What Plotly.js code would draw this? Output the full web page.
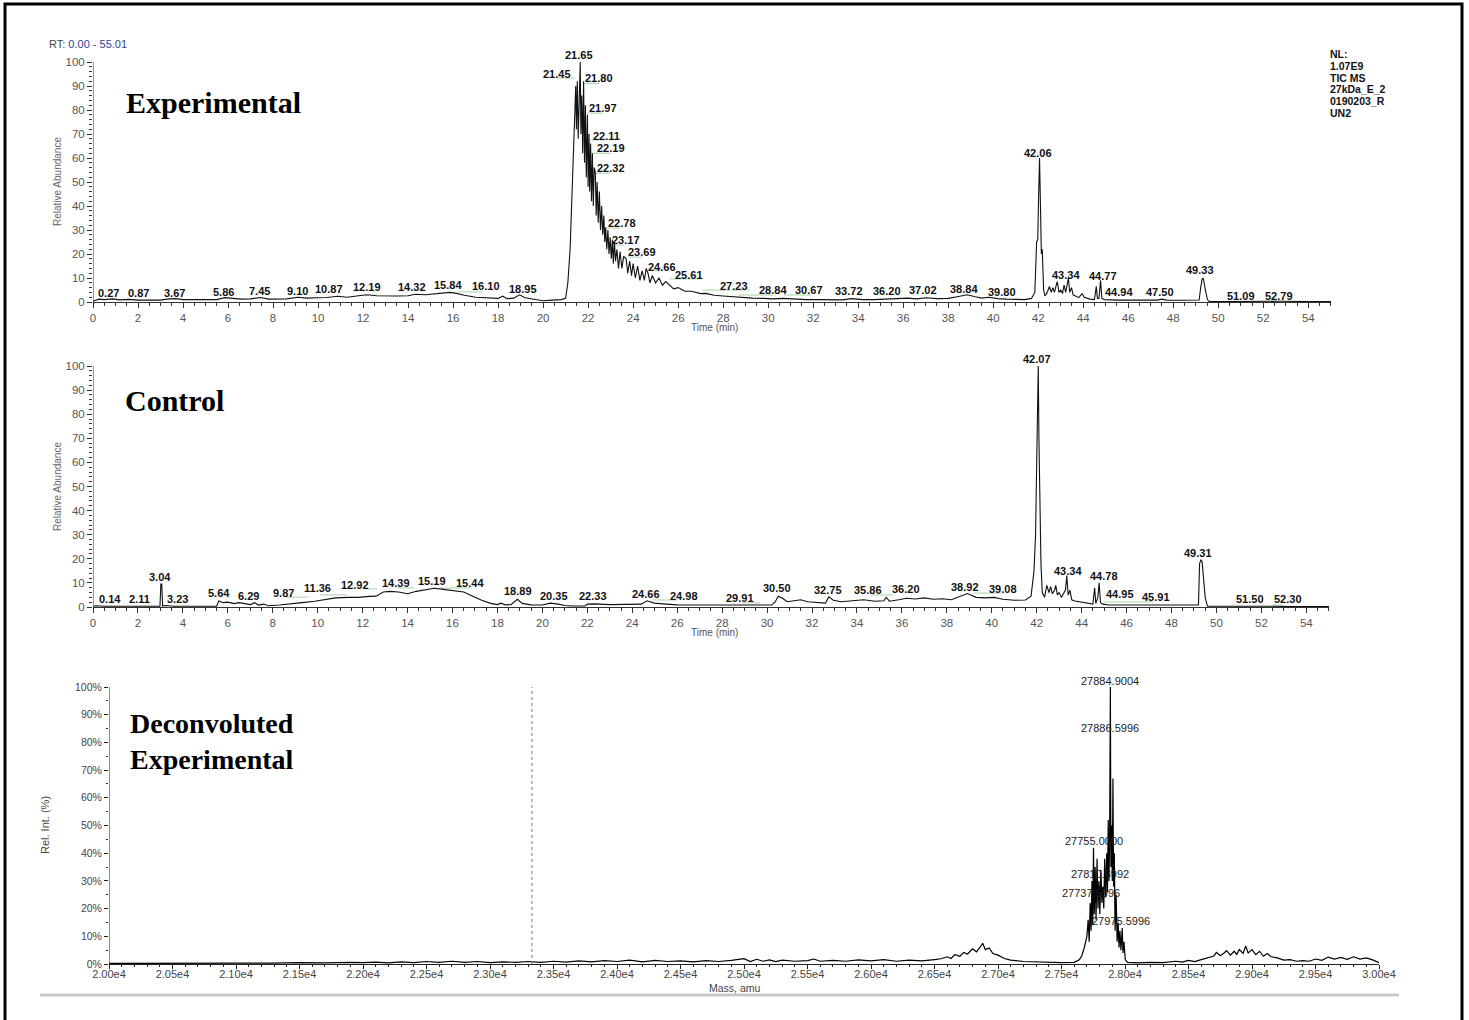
<!DOCTYPE html>
<html><head><meta charset="utf-8">
<script src="https://cdn.plot.ly/plotly-3.0.1.min.js"></script>
<style>html,body{margin:0;padding:0;background:#fff}#chart{width:1469px;height:1020px}</style>
</head><body><div id="chart"></div>
<script>
// ---------- Experimental TIC ----------
const expTime = [
 0,0.27,0.5,0.87,1.2,1.6,2.0,2.5,3.0,3.3,
 3.67,4.0,4.5,5.0,5.5,5.86,6.2,6.6,7.0,7.45,
 7.8,8.2,8.6,9.1,9.5,10.0,10.4,10.87,11.3,11.8,
 12.19,12.6,13.0,13.5,14.0,14.32,14.8,15.2,15.6,15.84,
 16.1,16.5,17.0,17.5,18.0,18.2,18.4,18.7,18.95,19.2,
 19.6,20.0,20.4,20.8,21.0,21.1,21.2,21.28,21.35,21.4,
 21.45,21.48,21.52,21.56,21.6,21.65,21.68,21.72,21.76,21.8,
 21.84,21.88,21.92,21.97,22.0,22.04,22.07,22.11,22.15,22.19,
 22.23,22.27,22.32,22.36,22.4,22.45,22.5,22.55,22.6,22.65,
 22.7,22.74,22.78,22.83,22.88,22.93,22.98,23.03,23.08,23.12,
 23.17,23.22,23.28,23.35,23.42,23.5,23.58,23.69,23.76,23.85,
 23.93,24.0,24.1,24.2,24.3,24.4,24.5,24.58,24.66,24.75,
 24.85,25.0,25.15,25.3,25.45,25.61,25.8,26.0,26.3,26.6,
 27.0,27.23,27.6,28.0,28.4,28.84,29.3,29.8,30.2,30.67,
 31.2,31.7,32.2,32.8,33.3,33.72,34.2,34.7,35.2,35.7,
 36.2,36.6,37.02,37.5,38.0,38.4,38.84,39.2,39.5,39.8,
 40.2,40.6,41.0,41.4,41.7,41.85,41.93,41.98,42.02,42.06,
 42.1,42.14,42.18,42.24,42.3,42.4,42.5,42.58,42.65,42.72,
 42.8,42.85,42.92,43.0,43.08,43.15,43.22,43.3,43.34,43.4,
 43.48,43.55,43.65,43.8,43.95,44.05,44.3,44.5,44.58,44.63,
 44.7,44.77,44.83,44.94,45.5,46.5,47.3,47.5,47.7,48.5,
 49.15,49.22,49.28,49.33,49.38,49.45,49.52,49.6,50.5,51.09,
 52.0,52.79,54.0,55.01
];
const expAbund = [
 0.3,1.2,1.0,1.3,0.9,1.1,0.8,0.9,0.8,1.2,
 1.4,1.0,1.1,0.9,1.0,1.8,1.4,1.2,1.3,1.9,
 1.2,1.1,1.3,2.0,1.6,1.8,1.9,2.4,2.0,2.6,
 3.0,2.6,2.5,2.5,2.6,3.2,3.0,3.5,3.8,4.0,
 3.7,2.8,2.0,1.6,1.5,2.4,1.4,1.6,3.0,1.8,
 1.0,0.5,0.8,1.0,1.5,8,22,45,62,85,
 90,72,92,68,88,100,70,86,62,92,
 58,82,52,78,48,70,46,66,42,62,
 40,56,54,36,50,33,46,30,40,28,
 36,25,31,22,30,20,27,18,26,16,
 25,17,22,14,21,14,19,18,12,17,
 11,16,10,15,9,13,9,14,12,8,
 11,8,10,7,8.5,7,5.5,6,4.5,4.5,
 3.5,3.6,2.8,2.5,2.2,2.0,1.6,1.5,1.3,1.5,
 1.1,1.0,1.0,1.0,0.9,1.4,1.0,1.0,1.1,1.2,
 1.6,1.3,1.8,1.4,1.5,2.2,3.0,2.2,1.6,2.0,
 1.4,1.2,1.1,1.0,1.5,4,25,26,45,60,
 40,20,22,5,2.5,4,6.5,4,6,4,
 7,8.5,4,5,3.5,7,4,8,10,4,
 6,3,2.5,1.8,3.5,2,1.2,1.0,6.5,1.5,
 1.5,9,1.5,1.0,0.8,0.7,0.8,1.2,0.8,0.7,
 0.8,6,9.5,10,8,4,1,0.2,0.2,0.3,
 0.2,0.3,0.2,0.2
];
const expPeakRT = [0.27,0.87,3.67,5.86,7.45,9.10,10.87,12.19,14.32,15.84,16.10,18.95,21.45,21.65,21.80,21.97,22.11,22.19,22.32,22.78,23.17,23.69,24.66,25.61,27.23,28.84,30.67,33.72,36.20,37.02,38.84,39.80,42.06,43.34,44.77,44.94,47.50,49.33,51.09,52.79];
const expLabelX = [0.67,2.0,3.6,5.82,7.38,9.07,10.49,12.18,14.18,15.78,17.47,19.1,20.6,21.6,22.5,22.67,22.8,23.0,23.0,23.5,23.7,24.4,25.3,26.5,28.5,30.2,31.8,33.6,35.3,36.9,38.7,40.4,42.0,43.24,44.9,45.6,47.4,49.2,51.0,52.7];
const expLabelY = [3.75,3.75,3.75,4.2,4.6,4.6,5.4,6.2,6.2,7.1,6.7,5.4,95,103,93.3,80.8,69,64,56,33,26,21,14.6,11.2,6.7,5,5,4.6,4.6,5,5.4,4.2,62,11.2,11,4.2,4.2,13.3,2.5,2.5];
// label leader segments (start time, end time, level)
const expLeadX0 = [20.6,21.8,21.95,22.1,22.2,22.3,22.7,23.0,23.8,24.7,25.6,27.1,28.7,30.7,16.2];
const expLeadX1 = [21.4,22.5,22.67,22.8,23.0,23.0,23.4,23.6,24.4,25.3,27.0,29.2,30.2,31.9,17.3];
const expLeadY  = [93.3,91,78.7,67.5,62,53.7,30.8,23.7,18.7,13.3,9.6,5,2.9,2.9,4.2];

// ---------- Control TIC ----------
const ctlTime = [
 0,0.14,0.5,1.0,1.5,2.11,2.6,2.98,3.02,3.06,
 3.1,3.23,3.6,4.5,5.5,5.6,5.8,6.0,6.29,6.5,
 6.8,7.0,7.2,7.35,7.6,7.8,8.3,8.8,9.3,9.87,
 10.3,10.8,11.36,11.8,12.3,12.6,12.92,13.2,13.6,14.0,
 14.39,14.8,15.19,15.6,16.0,16.5,16.9,17.3,17.7,18.0,
 18.15,18.35,18.6,18.89,19.1,19.5,20.0,20.35,20.7,21.0,
 21.3,21.9,22.0,22.33,23.0,24.0,24.4,24.66,24.98,25.5,
 26.0,27.0,28.0,29.0,29.91,30.2,30.35,30.5,30.7,30.9,
 31.2,31.5,31.8,32.3,32.6,32.75,32.95,33.3,33.8,34.3,
 34.8,35.2,35.3,35.45,35.86,36.2,36.6,37.0,37.4,37.8,
 38.2,38.6,38.92,39.3,39.7,40.1,40.5,41.0,41.5,41.75,
 41.88,41.95,42.0,42.04,42.07,42.1,42.14,42.19,42.25,42.35,
 42.45,42.55,42.62,42.7,42.8,42.85,42.92,43.0,43.1,43.2,
 43.28,43.34,43.4,43.48,43.56,43.7,44.0,44.2,44.5,44.58,
 44.63,44.72,44.78,44.84,44.95,45.2,46.0,47.0,48.0,49.2,
 49.25,49.31,49.36,49.42,49.5,49.6,50.5,51.5,52.3,53.5,
 55.01
];
const ctlAbund = [
 0.3,0.5,0.3,0.3,0.3,0.4,0.3,0.3,9.5,9.5,
 0.4,0.6,0.3,0.3,0.3,2.5,1.8,2.0,1.4,1.8,
 1.2,1.0,1.8,0.8,1.2,0.5,0.8,1.2,1.8,2.4,
 3.0,3.8,4.0,4.0,4.4,4.5,6.2,6.5,6.2,5.5,
 6.5,7.2,7.8,7.3,6.8,6.2,4.5,2.8,1.5,1.0,
 1.6,0.9,1.0,3.2,1.5,0.9,0.8,1.6,1.2,0.6,
 0.4,0.4,1.2,1.3,1.0,1.0,1.2,2.6,1.6,1.2,
 0.9,0.8,0.8,0.8,0.9,0.8,2.0,4.5,3.5,2.2,
 2.6,3.0,2.2,1.8,1.6,4.2,2.8,2.2,2.6,3.0,
 2.4,2.6,4.0,2.4,3.0,3.6,3.3,3.8,3.2,3.4,
 3.0,4.5,5.6,4.0,3.8,4.0,3.2,2.8,2.9,4.5,
 15,30,62,85,100,70,42,18,6,4,
 9,6,8.5,5.5,7,9,5,6,4,5.5,
 7,13,5,7,3,2.5,2,1.5,1.2,8,
 1.5,4,10,1.8,1.2,0.8,0.8,0.8,0.8,0.8,
 18,19.5,19,12,4,0.3,0.2,0.3,0.3,0.2,
 0.2
];
const ctlPeakRT = [0.14,2.11,3.04,3.23,5.64,6.29,9.87,11.36,12.92,14.39,15.19,15.44,18.89,20.35,22.33,24.66,24.98,29.91,30.50,32.75,35.86,36.20,38.92,39.08,42.07,43.34,44.78,44.95,45.91,49.31,51.50,52.30];
const ctlLabelX = [0.76,2.05,2.98,3.78,5.6,6.9,8.5,10.0,11.66,13.5,15.1,16.8,18.9,20.5,22.26,24.6,26.3,28.8,30.45,32.7,34.5,36.2,38.8,40.5,42.0,43.4,45.0,45.7,47.3,49.2,51.5,53.2];
const ctlLabelY = [3.3,3.3,12.4,3.3,5.8,4.6,5.8,7.9,9.1,10,10.8,10,6.6,4.6,4.6,5.4,4.6,3.7,7.9,7,7,7.5,8.3,7.5,103,15,12.9,5.4,4.1,22.4,3.3,3.3];
const ctlLeadX0 = [8.6,10.1,12.1,13.5,15.45,24.9,28.9,34.6,39.2,45.0,52.5];
const ctlLeadX1 = [9.6,11.3,12.65,14.3,16.8,26.0,29.7,35.6,40.4,47.2,53.0];
const ctlLeadY  = [4.1,5,7.5,7.9,7.9,2.9,1.7,5,5.8,2.1,0.8];

// ---------- Deconvoluted spectrum ----------
const decMass = [
 20000,20400,20800,21100,21300,21500,21700,21900,
 22000,22100,22200,22300,22400,22500,22600,22700,22800,22900,
 23000,23100,23200,23300,23400,23500,23600,23700,23800,23900,
 24000,24100,24200,24300,24400,24500,24600,24700,24800,24900,
 25000,25050,25100,25150,25200,25250,25300,25400,25500,25550,
 25600,25700,25800,25900,26000,26100,26200,26300,26400,26500,
 26550,26600,26630,26660,26700,26730,26760,26800,26830,26860,
 26880,26900,26930,26960,27000,27050,27100,27200,27300,27400,27500,27600,
 27640,27660,27680,27700,27710,27718,27726,27733,27740,27746,
 27752,27758,27765,27772,27780,27787,27795,27802,27810,27818,
 27826,27833,27840,27848,27856,27862,27868,27874,27879,27884.9,
 27889,27894,27900,27905,27910,27916,27922,27930,27938,27946,
 27953,27960,27968,27978,27984,27992,28002,
 28020,28100,28200,28300,28400,28450,28500,28550,28600,28650,
 28700,28720,28750,28780,28800,28830,28860,28880,28900,28930,
 28950,28970,29000,29030,29060,29090,29120,29150,29200,29250,
 29300,29350,29400,29450,29500,29550,29600,29650,29700,29750,
 29800,29850,29900,29950,30000
];
const decInt = [
 0.2,0.2,0.3,0.4,0.3,0.5,0.4,0.6,
 0.5,0.7,0.4,0.8,0.5,0.9,0.6,1.0,0.6,0.9,
 0.5,0.8,0.6,0.9,0.6,1.0,0.7,1.1,0.8,1.2,
 0.9,1.4,0.8,1.3,0.9,1.1,0.8,1.2,0.9,1.3,
 1.9,0.9,1.7,1.0,1.5,0.9,1.4,1.0,1.2,1.8,
 1.0,1.3,1.0,1.5,1.1,1.6,1.0,1.4,1.1,1.6,
 1.9,2.6,2.0,3.4,2.8,4.2,3.6,5.5,4.4,6.2,
 7.5,5.2,5.8,3.8,3.2,2.0,1.4,0.9,0.7,0.6,0.5,0.6,
 1.5,3,6,10,16,8,22,12,30,14,
 42,18,35,16,38,20,30,18,34,22,
 28,20,38,24,40,26,52,30,45,100,
 35,50,30,67,28,40,12,25,8,15,
 6,12,5,13,4,8,1.5,
 0.6,0.4,0.6,0.5,1.0,0.7,1.3,0.9,1.6,2.2,
 2.9,4.2,3.0,4.0,4.8,3.2,4.6,3.5,5.2,3.8,
 6.5,4.0,5.2,3.4,4.6,2.8,3.8,2.6,2.2,1.4,
 1.6,1.0,1.2,1.0,1.8,1.3,2.5,1.8,2.4,1.7,
 2.6,1.8,2.2,1.5,0.5
];
const decPeakText = ['27884.9004','27886.5996','27755.0000','27810.6992','27737.5996','27975.5996'];
const decLabelX = [27882,27882,27756,27803,27732,27969];
const decLabelY = [102.2,85.2,44.4,32.5,25.6,15.5];
const decMarkerMass = [19970];
const decMarkerInt = [10];
const decDottedMass = 23330;

// ---------- text ----------
const nlLines = ['NL:','1.07E9','TIC MS','27kDa_E_2','0190203_R','UN2'];
const panelTitles = ['Experimental','Control','Deconvoluted<br>Experimental'];

// ---------- layout helpers ----------
const W = 1469, H = 1020;
const px = v => v / W, py = v => 1 - v / H;
const SANS = 'Liberation Sans, Arial, sans-serif';
const SERIF = 'Liberation Serif, Times New Roman, serif';

function seq(a, b, s) { const r = []; for (let v = a; v <= b + 1e-9; v += s) r.push(+v.toFixed(4)); return r; }
function segs(x0, x1, y) {
  const xs = [], ys = [];
  x0.forEach((v, i) => { xs.push(v, x1[i], null); ys.push(y[i], y[i], null); });
  return {xs, ys};
}
const eL = segs(expLeadX0, expLeadX1, expLeadY);
const cL = segs(ctlLeadX0, ctlLeadX1, ctlLeadY);

const traces = [
  {x: eL.xs, y: eL.ys, xaxis: 'x', yaxis: 'y', mode: 'lines', line: {color: '#a6d3a6', width: 1}, hoverinfo: 'skip', connectgaps: false},
  {x: cL.xs, y: cL.ys, xaxis: 'x2', yaxis: 'y2', mode: 'lines', line: {color: '#a6d3a6', width: 1}, hoverinfo: 'skip', connectgaps: false},
  {x: expTime, y: expAbund, xaxis: 'x', yaxis: 'y', mode: 'lines', line: {color: '#111', width: 1.1}, hoverinfo: 'skip'},
  {x: ctlTime, y: ctlAbund, xaxis: 'x2', yaxis: 'y2', mode: 'lines', line: {color: '#111', width: 1.1}, hoverinfo: 'skip'},
  {x: decMass, y: decInt, xaxis: 'x3', yaxis: 'y3', mode: 'lines', line: {color: '#000', width: 1.2}, hoverinfo: 'skip'},
  {x: decMarkerMass, y: decMarkerInt, xaxis: 'x3', yaxis: 'y3', mode: 'markers', cliponaxis: false,
   marker: {symbol: 'triangle-right', size: 8, color: '#1b1b80'}, hoverinfo: 'skip'}
];

const chromX = (dom, anchor) => ({
  domain: dom, anchor: anchor, range: [0, 55.01], showgrid: false, zeroline: false,
  showline: true, linecolor: '#333', linewidth: 1,
  tickmode: 'array', tickvals: seq(0, 54, 2), ticks: 'outside', ticklen: 5, tickcolor: '#333',
  tickfont: {family: SANS, size: 11.5, color: '#555'},
  minor: {tickmode: 'array', tickvals: seq(0, 55, 0.5), ticks: 'outside', ticklen: 3, tickcolor: '#333'}
});
const chromY = (dom, anchor) => ({
  domain: dom, anchor: anchor, range: [0, 108], showgrid: false, zeroline: false, showline: false,
  tickmode: 'array', tickvals: seq(0, 100, 10), ticks: 'outside', ticklen: 5, tickcolor: '#333',
  tickfont: {family: SANS, size: 11.5, color: '#555'},
  minor: {tickmode: 'array', tickvals: seq(0, 100, 2), ticks: 'outside', ticklen: 3, tickcolor: '#333'}
});

const massTicks = seq(20000, 30000, 500);
const pctTicks = seq(0, 100, 10);

const layout = {
  width: W, height: H, margin: {l: 0, r: 0, t: 0, b: 0},
  paper_bgcolor: '#fff', plot_bgcolor: '#fff', showlegend: false,
  xaxis: chromX([px(93), px(1331)], 'y'),
  yaxis: chromY([py(302), py(302 - 108 * 2.4)], 'x'),
  xaxis2: chromX([px(93), px(1329)], 'y2'),
  yaxis2: chromY([py(607), py(607 - 108 * 2.41)], 'x2'),
  xaxis3: {
    domain: [px(109), px(1379)], anchor: 'y3', range: [20000, 30000], showgrid: false, zeroline: false,
    showline: true, linecolor: '#222', linewidth: 1,
    tickmode: 'array', tickvals: massTicks, ticktext: massTicks.map(v => (v / 1e4).toFixed(2) + 'e4'),
    ticks: 'outside', ticklen: 4, tickcolor: '#222', ticklabelstandoff: -4,
    tickfont: {family: SANS, size: 11, color: '#444'},
    minor: {tickmode: 'array', tickvals: seq(20000, 30000, 100), ticks: 'outside', ticklen: 2, tickcolor: '#222'}
  },
  yaxis3: {
    domain: [py(964), py(964 - 106 * 2.77)], anchor: 'x3', range: [0, 106], showgrid: false, zeroline: false, showline: false,
    tickmode: 'array', tickvals: pctTicks, ticktext: pctTicks.map(v => v + '%'),
    ticks: 'outside', ticklen: 4, tickcolor: '#222',
    tickfont: {family: SANS, size: 10.5, color: '#444'},
    minor: {tickmode: 'array', tickvals: seq(0, 100, 5), ticks: 'outside', ticklen: 2, tickcolor: '#222'}
  },
  shapes: [
    {type: 'line', xref: 'x', yref: 'y', x0: 0, x1: 0, y0: 0, y1: 100, line: {color: '#333', width: 1}},
    {type: 'line', xref: 'x2', yref: 'y2', x0: 0, x1: 0, y0: 0, y1: 100, line: {color: '#333', width: 1}},
    {type: 'line', xref: 'x3', yref: 'y3', x0: 20000, x1: 20000, y0: 0, y1: 100, line: {color: '#222', width: 1}},
    {type: 'line', xref: 'x3', yref: 'y3', x0: decDottedMass, x1: decDottedMass, y0: 0, y1: 100, line: {color: '#777', width: 1, dash: 'dot'}},
    {type: 'line', xref: 'paper', yref: 'paper', x0: px(40), x1: px(1399), y0: py(995), y1: py(995), line: {color: '#c8c8c8', width: 3}},
    {type: 'rect', xref: 'paper', yref: 'paper', x0: px(5), x1: px(1462), y0: py(1030), y1: py(4), line: {color: '#000', width: 3}}
  ],
  annotations: []
};

const A = layout.annotations;
expPeakRT.forEach((v, i) => A.push({xref: 'x', yref: 'y', x: expLabelX[i], y: expLabelY[i], text: v.toFixed(2), showarrow: false,
  xanchor: 'center', yanchor: 'middle', font: {family: SANS, size: 11, color: '#111', weight: 'bold'}}));
ctlPeakRT.forEach((v, i) => A.push({xref: 'x2', yref: 'y2', x: ctlLabelX[i], y: ctlLabelY[i], text: v.toFixed(2), showarrow: false,
  xanchor: 'center', yanchor: 'middle', font: {family: SANS, size: 11, color: '#111', weight: 'bold'}}));
decPeakText.forEach((t, i) => A.push({xref: 'x3', yref: 'y3', x: decLabelX[i], y: decLabelY[i], text: t, showarrow: false,
  xanchor: 'center', yanchor: 'middle', font: {family: SANS, size: 11, color: '#222'}}));

// panel titles
A.push({xref: 'paper', yref: 'paper', x: px(124), y: py(103), text: panelTitles[0], showarrow: false, xanchor: 'left', yanchor: 'middle',
  font: {family: SERIF, size: 30, color: '#000', weight: 'bold'}});
A.push({xref: 'paper', yref: 'paper', x: px(123), y: py(401), text: panelTitles[1], showarrow: false, xanchor: 'left', yanchor: 'middle',
  font: {family: SERIF, size: 30, color: '#000', weight: 'bold'}});
A.push({xref: 'paper', yref: 'paper', x: px(128), y: py(741), text: panelTitles[2], showarrow: false, xanchor: 'left', yanchor: 'middle', align: 'left',
  font: {family: SERIF, size: 28, color: '#000', weight: 'bold'}});

// axis titles
A.push({xref: 'paper', yref: 'paper', x: px(57), y: py(182), text: 'Relative Abundance', textangle: -90, showarrow: false,
  xanchor: 'center', yanchor: 'middle', font: {family: SANS, size: 10, color: '#666'}});
A.push({xref: 'paper', yref: 'paper', x: px(57), y: py(487), text: 'Relative Abundance', textangle: -90, showarrow: false,
  xanchor: 'center', yanchor: 'middle', font: {family: SANS, size: 10, color: '#666'}});
A.push({xref: 'paper', yref: 'paper', x: px(45), y: py(825), text: 'Rel. Int. (%)', textangle: -90, showarrow: false,
  xanchor: 'center', yanchor: 'middle', font: {family: SANS, size: 11, color: '#444'}});
A.push({xref: 'paper', yref: 'paper', x: px(714), y: py(328), text: 'Time (min)', showarrow: false,
  xanchor: 'center', yanchor: 'middle', font: {family: SANS, size: 10, color: '#555'}});
A.push({xref: 'paper', yref: 'paper', x: px(714), y: py(632), text: 'Time (min)', showarrow: false,
  xanchor: 'center', yanchor: 'middle', font: {family: SANS, size: 10, color: '#555'}});
A.push({xref: 'paper', yref: 'paper', x: px(735), y: py(988), text: 'Mass, amu', showarrow: false,
  xanchor: 'center', yanchor: 'middle', font: {family: SANS, size: 10.5, color: '#444'}});

// RT range header
A.push({xref: 'paper', yref: 'paper', x: px(47), y: py(44), text: 'RT: <span style="color:#2f3f95">0.00 - 55.01</span>', showarrow: false,
  xanchor: 'left', yanchor: 'middle', font: {family: SANS, size: 11, color: '#444'}});

// NL block
nlLines.forEach((t, i) => A.push({xref: 'paper', yref: 'paper', x: px(1328), y: py(54 + i * 11.8), text: t, showarrow: false,
  xanchor: 'left', yanchor: 'middle', font: {family: SANS, size: 10.5, color: '#111', weight: 'bold'}}));

Plotly.newPlot('chart', traces, layout, {staticPlot: true, displayModeBar: false});
</script>
</body></html>
